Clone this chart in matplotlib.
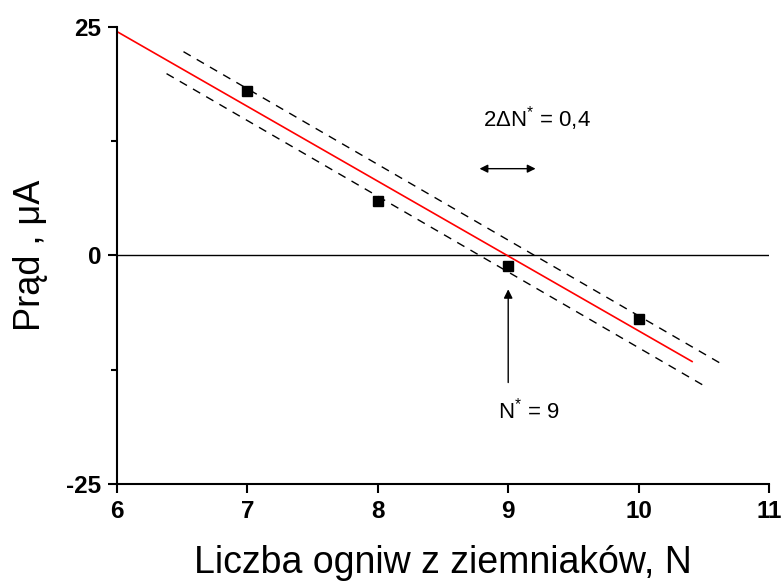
import matplotlib.pyplot as plt
from matplotlib.ticker import MultipleLocator

plt.rcParams['font.family'] = ['Liberation Sans', 'DejaVu Sans']
plt.rcParams['mathtext.fontset'] = 'custom'
plt.rcParams['mathtext.rm'] = 'Liberation Sans'
plt.rcParams['mathtext.it'] = 'Liberation Sans'
plt.rcParams['axes.unicode_minus'] = False

# punkty pomiarowe
n_ogniw = [7, 8, 9, 10]
prad = [18.0, 6.0, -1.1, -7.0]

# prosta dopasowania i granice
fit_x = [6.0, 10.41]
fit_y = [24.5, -11.6]
upper_x = [6.51, 10.64]
upper_y = [22.3, -11.9]
lower_x = [6.38, 10.52]
lower_y = [19.9, -14.4]

fig = plt.figure(figsize=(7.82, 5.81), dpi=100)
ax = fig.add_axes([0.1496, 0.167, 0.8338, 0.7865])

ax.axhline(0, color='black', lw=1.0)
ax.plot(fit_x, fit_y, color='red', lw=1.2)
ax.plot(upper_x, upper_y, color='black', lw=1.0, ls=(0, (6, 5)))
ax.plot(lower_x, lower_y, color='black', lw=1.0, ls=(0, (6, 5)))
ax.plot(n_ogniw, prad, 's', color='black', markersize=7)

# strzałki i opisy
ax.annotate('', xy=(8.78, 9.5), xytext=(9.21, 9.5),
            arrowprops=dict(arrowstyle='<|-|>', color='black', lw=1.0,
                            mutation_scale=12, shrinkA=0, shrinkB=0))
ax.annotate('', xy=(9.0, -3.7), xytext=(9.0, -13.9),
            arrowprops=dict(arrowstyle='-|>', color='black', lw=1.0,
                            mutation_scale=13, shrinkA=0, shrinkB=0))
ax.text(8.81, 15.0, r'2ΔN$^{*}$ = 0,4', fontsize=16, va='center', ha='left')
ax.text(8.92, -17.0, r'N$^{*}$ = 9', fontsize=16, va='center', ha='left')

ax.set_xlim(6, 11)
ax.set_ylim(-25, 25)
ax.set_xticks([6, 7, 8, 9, 10, 11])
ax.set_yticks([-25, 0, 25])
ax.yaxis.set_minor_locator(MultipleLocator(12.5))

ax.spines['top'].set_visible(False)
ax.spines['right'].set_visible(False)
ax.spines['left'].set_linewidth(1.5)
ax.spines['bottom'].set_linewidth(1.5)
ax.tick_params(which='major', direction='out', length=6.5, width=1.5, pad=5)
ax.tick_params(which='minor', direction='out', length=4, width=1.5)
plt.setp(ax.get_xticklabels(), fontweight='bold', fontsize=17.5)
plt.setp(ax.get_yticklabels(), fontweight='bold', fontsize=17.5)

ax.set_xlabel('Liczba ogniw z ziemniaków, N', fontsize=27, labelpad=16)
ax.set_ylabel('Prąd , μA', fontsize=26, labelpad=13)

fig.savefig('out.png', dpi=100)
